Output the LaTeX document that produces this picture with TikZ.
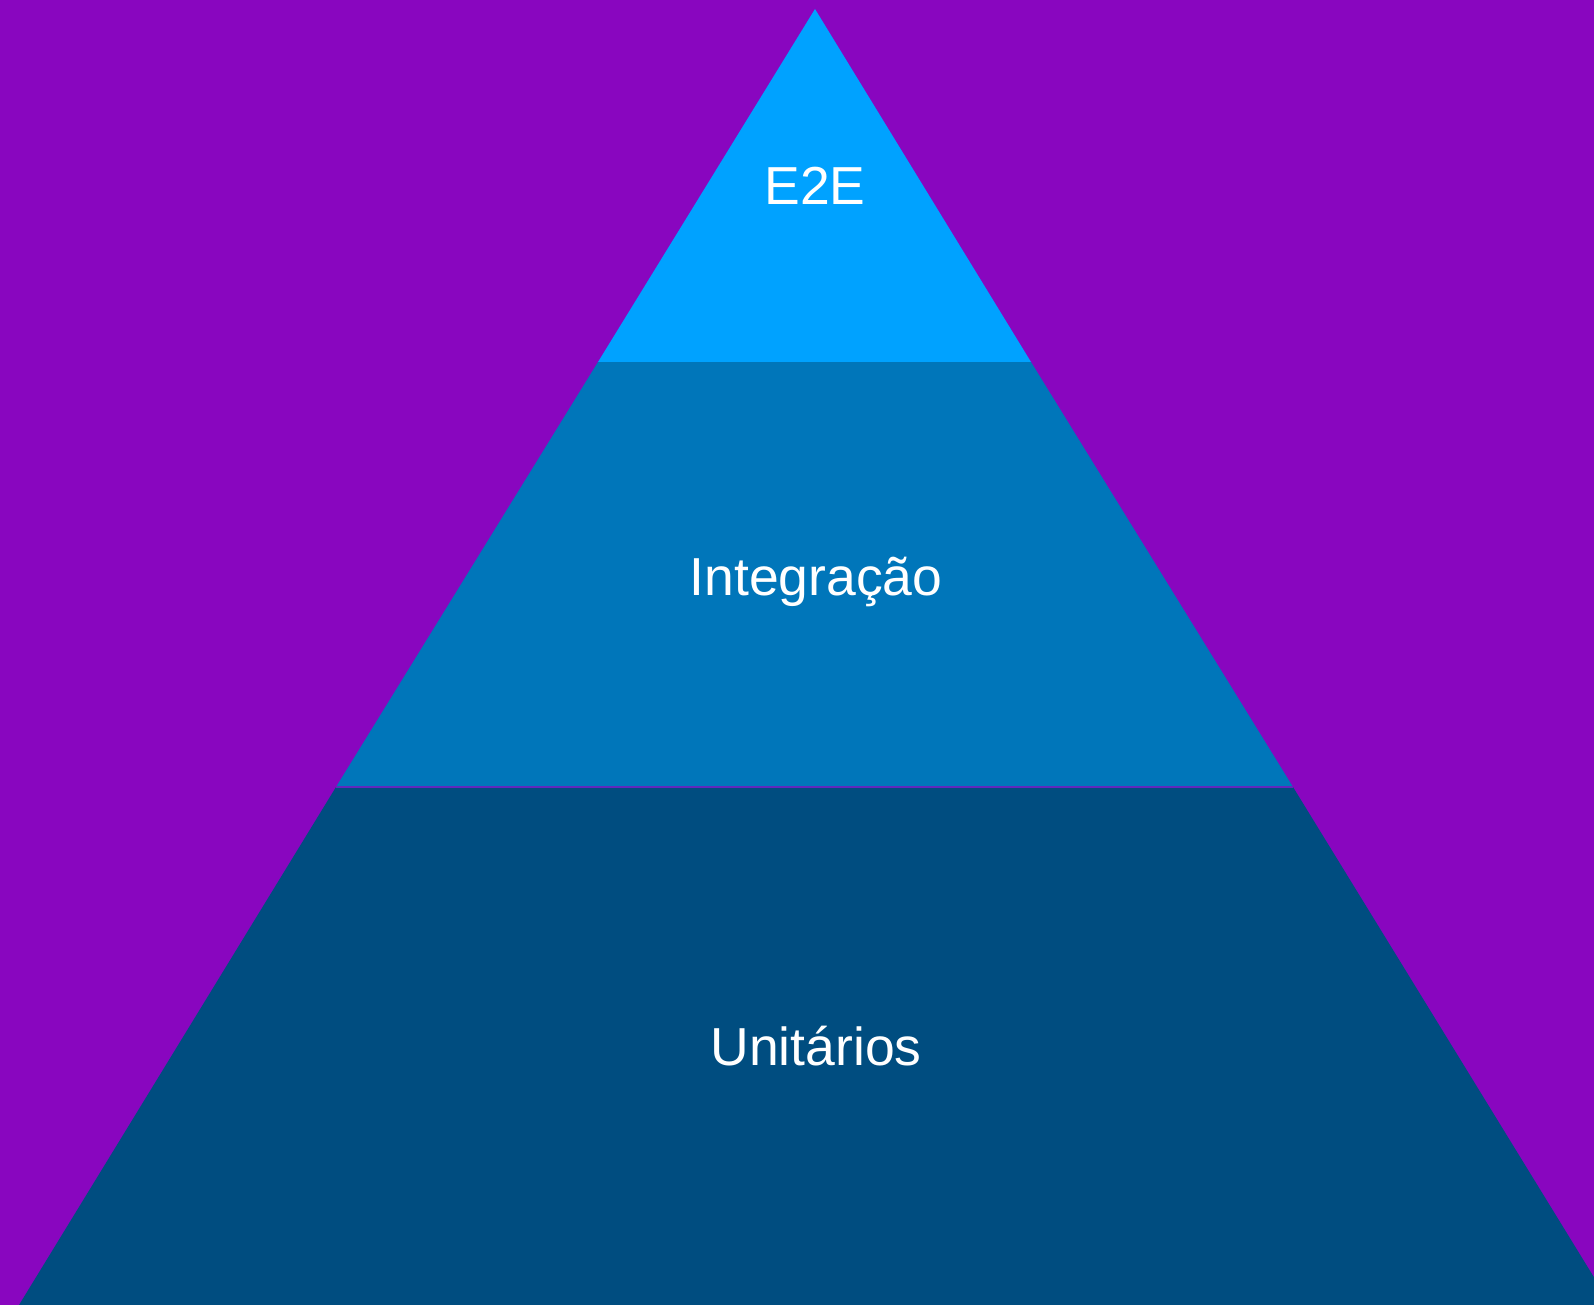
\documentclass[tikz,border=0pt]{standalone}
\usepackage{fontspec}
\setmainfont{Liberation Sans}
\definecolor{bgpurple}{HTML}{8906BF}
\definecolor{topblue}{HTML}{00A2FF}
\definecolor{midblue}{HTML}{0076BA}
\definecolor{lowblue}{HTML}{004D80}
\begin{document}
\begin{tikzpicture}[x=1pt,y=-1pt,
  lbl/.style={text=white,anchor=base,inner sep=0pt,font=\fontsize{53.5}{60}\selectfont}]
\fill[bgpurple] (0,0) rectangle (1594,1305);
\useasboundingbox (0,0) rectangle (1594,1305);
\begin{scope}
\clip (0,0) rectangle (1594,1305);
\coordinate (apex) at (815,9);
\coordinate (l1) at (598,362);
\coordinate (r1) at (1031,362);
\coordinate (l2) at (336,787);
\coordinate (r2) at (1293,787);
\coordinate (l3) at (19,1305);
\coordinate (r3) at (1611,1305);
\fill[topblue] (apex) -- (r1) -- (l1) -- cycle;
\fill[midblue] (l1) -- (r1) -- (r2) -- (l2) -- cycle;
\fill[lowblue] (l2) -- (r2) -- (r3) -- (l3) -- cycle;
\draw[bgpurple!70!midblue,line width=1.2pt] (l2) -- (r2);
\end{scope}
\node[lbl] (e2e) at (815,205) {E2E};
\node[lbl] (integ) at (816,595) {Integração};
\node[lbl] (unit) at (816,1065) {Unitários};
\end{tikzpicture}
\end{document}
